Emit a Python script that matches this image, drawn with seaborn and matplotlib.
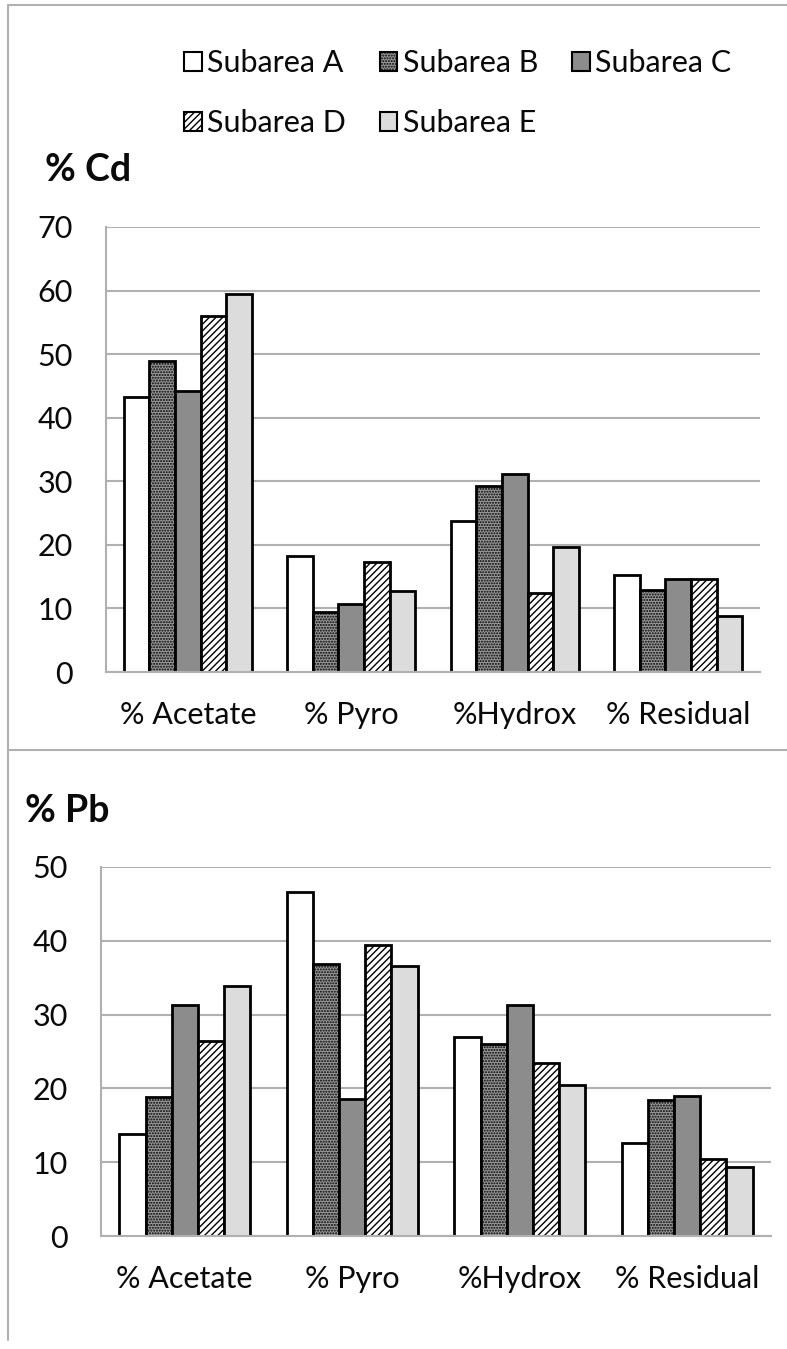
import matplotlib
matplotlib.use("Agg")
import matplotlib.pyplot as plt
import seaborn as sns
import pandas as pd
from matplotlib.patches import Patch
from matplotlib.lines import Line2D

categories = ["% Acetate", "% Pyro", "%Hydrox", "% Residual"]
subareas = ["Subarea A", "Subarea B", "Subarea C", "Subarea D", "Subarea E"]

cd_A = [43.3, 18.3, 23.8, 15.3]
cd_B = [48.9, 9.4, 29.3, 12.9]
cd_C = [44.2, 10.7, 31.2, 14.6]
cd_D = [56.0, 17.3, 12.5, 14.6]
cd_E = [59.4, 12.7, 19.7, 8.8]

pb_A = [13.8, 46.6, 27.0, 12.6]
pb_B = [18.9, 36.8, 26.0, 18.4]
pb_C = [31.3, 18.6, 31.3, 19.0]
pb_D = [26.4, 39.4, 23.5, 10.5]
pb_E = [33.9, 36.6, 20.4, 9.3]

cd_ticks = [0, 10, 20, 30, 40, 50, 60, 70]
pb_ticks = [0, 10, 20, 30, 40, 50]

faces = ["#ffffff", "#9a9a9a", "#8c8c8c", "#ffffff", "#dcdcdc"]
hatches = [None, "......", None, "/////", None]


def long_df(series):
    rows = []
    for name, vals in zip(subareas, series):
        for c, v in zip(categories, vals):
            rows.append({"cat": c, "sub": name, "val": v})
    return pd.DataFrame(rows)


sns.set_theme(style="white")
plt.rcParams["font.family"] = ["Lato", "DejaVu Sans"]
plt.rcParams["hatch.linewidth"] = 1.0
plt.rcParams["text.color"] = "#0a0a0a"

fig = plt.figure(figsize=(7.87, 13.49), dpi=100)

ax1 = fig.add_axes([106 / 787, 1 - 672 / 1349, (760 - 106) / 787, (672 - 227) / 1349])
ax2 = fig.add_axes([101 / 787, 1 - 1236 / 1349, (771 - 101) / 787, (1236 - 867) / 1349])


def draw(ax, series, ticks):
    df = long_df(series)
    sns.barplot(data=df, x="cat", y="val", hue="sub", order=categories,
                hue_order=subareas, ax=ax, width=0.78, legend=False,
                palette=faces, saturation=1)
    for i, cont in enumerate(ax.containers):
        for p in cont.patches:
            p.set_facecolor(faces[i])
            p.set_edgecolor("black")
            p.set_linewidth(2.0)
            if hatches[i]:
                p.set_hatch(hatches[i])
    ax.set_ylim(ticks[0], ticks[-1])
    ax.set_yticks(ticks)
    ax.set_xlim(-0.5, 3.5)
    ax.yaxis.grid(True, color="#b0b0b0", linewidth=1.5)
    ax.set_axisbelow(True)
    for s in ["top", "right"]:
        ax.spines[s].set_visible(False)
    for s in ["left", "bottom"]:
        ax.spines[s].set_color("#b0b0b0")
        ax.spines[s].set_linewidth(1.5)
    ax.set_xlabel("")
    ax.set_ylabel("")
    ax.tick_params(axis="y", labelsize=22, pad=24, length=0, labelcolor="#0a0a0a")
    ax.tick_params(axis="x", labelsize=22, pad=21, length=0, labelcolor="#0a0a0a")


draw(ax1, [cd_A, cd_B, cd_C, cd_D, cd_E], cd_ticks)
draw(ax2, [pb_A, pb_B, pb_C, pb_D, pb_E], pb_ticks)

fig.text(45 / 787, 1 - 170 / 1349, "% Cd", fontsize=27, fontweight="bold", va="center", ha="left")
fig.text(25 / 787, 1 - 811 / 1349, "% Pb", fontsize=27, fontweight="bold", va="center", ha="left")

handles = [Patch(facecolor=faces[i], edgecolor="black", linewidth=1.5,
                 hatch=hatches[i], label=subareas[i]) for i in range(5)]
order = [0, 3, 1, 4, 2]
fig.legend([handles[i] for i in order], [subareas[i] for i in order],
           ncol=3, loc="upper left", bbox_to_anchor=(184 / 787, 1 - 49 / 1349),
           frameon=False, fontsize=22, handlelength=0.58, handleheight=0.58,
           handletextpad=0.18, columnspacing=1.1, labelspacing=1.05,
           borderpad=0.0, borderaxespad=0.0)

# outer frame lines
fig.add_artist(Line2D([8 / 787, 8 / 787], [1 - 5 / 1349, 1 - 1340 / 1349],
                      transform=fig.transFigure, color="#b0b0b0", linewidth=1.5))
fig.add_artist(Line2D([8 / 787, 1.0], [1 - 5 / 1349, 1 - 5 / 1349],
                      transform=fig.transFigure, color="#b0b0b0", linewidth=1.5))
fig.add_artist(Line2D([8 / 787, 1.0], [1 - 750 / 1349, 1 - 750 / 1349],
                      transform=fig.transFigure, color="#b0b0b0", linewidth=1.5))

fig.savefig("out.png", dpi=100)
